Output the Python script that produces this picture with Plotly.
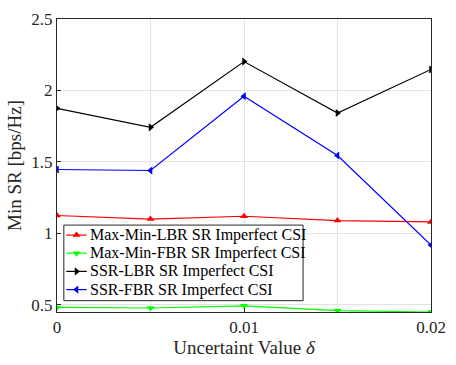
import plotly.graph_objects as go

x_vals = [0, 0.005, 0.01, 0.015, 0.02]
lbr_maxmin = [1.125, 1.10, 1.12, 1.09, 1.08]
fbr_maxmin = [0.482, 0.478, 0.493, 0.46, 0.45]
ssr_lbr = [1.875, 1.742, 2.202, 1.842, 2.147]
ssr_fbr = [1.447, 1.44, 1.96, 1.545, 0.918]

names = ["Max-Min-LBR SR Imperfect CSI", "Max-Min-FBR SR Imperfect CSI",
         "SSR-LBR SR Imperfect CSI", "SSR-FBR SR Imperfect CSI"]
colors = ["#ff0000", "#00ff00", "#000000", "#0000ff"]
symbols = ["triangle-up", "triangle-down", "triangle-right", "triangle-left"]
series = [lbr_maxmin, fbr_maxmin, ssr_lbr, ssr_fbr]

W, H = 456, 365
L, R, T, B = 57, 16, 10, 52.6
font = "Liberation Serif, Times New Roman, serif"

fig = go.Figure()
for n, c, s, y in zip(names, colors, symbols, series):
    fig.add_trace(go.Scatter(x=x_vals, y=y, mode="lines+markers", name=n,
                             line=dict(color=c, width=1.2),
                             marker=dict(symbol=s, size=7, color=c),
                             showlegend=False))

# ---- custom legend on a pixel-coordinate overlay axis ----
px_x0, px_x1 = L, W - R
px_y0, px_y1 = T, H - B
box = dict(x0=64, x1=309, y0=222.7, y1=300.7)
rows = [233.0, 251.7, 270.5, 289.3]
fig.add_trace(go.Scatter(
    x=[box["x0"], box["x1"], box["x1"], box["x0"], box["x0"]],
    y=[box["y0"], box["y0"], box["y1"], box["y1"], box["y0"]],
    xaxis="x2", yaxis="y2", mode="lines", fill="toself", fillcolor="white",
    line=dict(color="#262626", width=1), showlegend=False, hoverinfo="skip"))
for n, c, s, ry in zip(names, colors, symbols, rows):
    fig.add_trace(go.Scatter(x=[66.5, 87.5], y=[ry, ry], xaxis="x2", yaxis="y2",
                             mode="lines", line=dict(color=c, width=1.2),
                             showlegend=False, hoverinfo="skip"))
    fig.add_trace(go.Scatter(x=[77], y=[ry], xaxis="x2", yaxis="y2",
                             mode="markers", marker=dict(symbol=s, size=7, color=c),
                             showlegend=False, hoverinfo="skip"))
    fig.add_annotation(x=88.5, y=ry, xref="x2", yref="y2", text=n, showarrow=False,
                       xanchor="left", yanchor="middle",
                       font=dict(family=font, size=16, color="#000000"))

fig.update_layout(
    width=W, height=H,
    margin=dict(l=L, r=R, t=T, b=B),
    paper_bgcolor="white", plot_bgcolor="white",
    font=dict(family=font, size=17, color="#262626"),
    showlegend=False,
    xaxis2=dict(overlaying="x", range=[px_x0, px_x1], visible=False, fixedrange=True),
    yaxis2=dict(overlaying="y", range=[px_y1, px_y0], visible=False, fixedrange=True),
)
fig.update_xaxes(selector=dict(anchor="y"))
fig.layout.xaxis.update(range=[0, 0.02], tickvals=[0, 0.01, 0.02], ticktext=["0", "0.01", "0.02"],
                        showgrid=True, gridcolor="#e3e3e3", gridwidth=1,
                        showline=True, linecolor="#262626", linewidth=1, mirror=True,
                        ticks="inside", ticklen=4, tickcolor="#262626",
                        zeroline=False,
                        minor=dict(tickvals=[0.005, 0.015], showgrid=True, gridcolor="#e3e3e3", ticks=""),
                        title=dict(text="Uncertaint Value <i>δ</i>", font=dict(size=19), standoff=2))
fig.layout.yaxis.update(range=[0.45, 2.5], tickvals=[0.5, 1, 1.5, 2, 2.5],
                        ticktext=["0.5", "1", "1.5", "2", "2.5"],
                        showgrid=True, gridcolor="#e3e3e3", gridwidth=1,
                        showline=True, linecolor="#262626", linewidth=1, mirror=True,
                        ticks="inside", ticklen=4, tickcolor="#262626",
                        zeroline=False,
                        title=dict(text="Min SR [bps/Hz]", font=dict(size=19), standoff=4))
fig.write_html("out.html")
